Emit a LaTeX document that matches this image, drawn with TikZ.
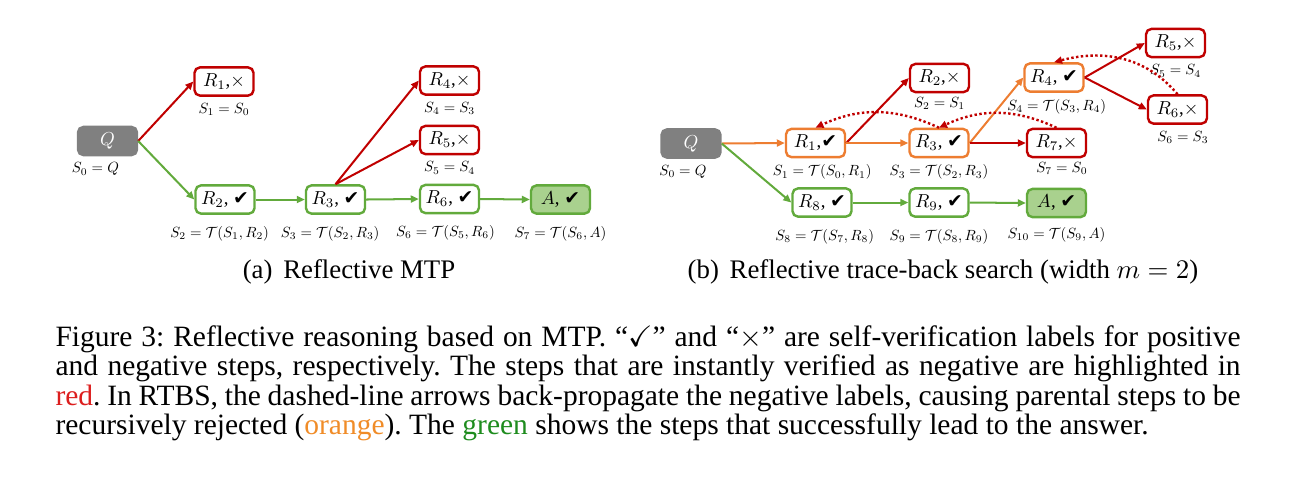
\documentclass[tikz,border=0pt]{standalone}
\usepackage{amssymb}
\usepackage{graphicx}
\usepackage{fontspec}
\setmainfont{Liberation Serif}
\newfontfamily\chkfont{DejaVu Sans}
\usetikzlibrary{positioning,arrows.meta}
\definecolor{stepred}{RGB}{192,0,0}
\definecolor{steporange}{RGB}{237,125,49}
\definecolor{stepgreen}{RGB}{98,170,60}
\definecolor{ansgreen}{RGB}{169,209,142}
\definecolor{qgray}{RGB}{128,128,128}
\definecolor{capred}{RGB}{220,30,30}
\definecolor{caporange}{RGB}{240,140,40}
\definecolor{capgreen}{RGB}{30,140,30}
\newcommand{\okmark}{{\chkfont\char"2714}}
\newcommand{\badmark}{$\times$}
\newcommand{\steptxt}[1]{\scalebox{0.7}{#1}}
\newcommand{\slab}[1]{\scalebox{0.55}{$#1$}}
\tikzset{
  stepbox/.style={draw, rounded corners=2pt, line width=0.9pt, fill=white, minimum width=22pt,
                  minimum height=10.5pt, inner sep=0pt, font=\fontsize{10}{12}\selectfont},
  badstep/.style={stepbox, draw=stepred},
  backstep/.style={stepbox, draw=steporange},
  goodstep/.style={stepbox, draw=stepgreen},
  ansstep/.style={goodstep, fill=ansgreen},
  query/.style={stepbox, draw=qgray, fill=qgray, text=white},
  slbl/.style={font=\fontsize{10}{12}\selectfont, inner sep=1pt},
  edge/.style={-{Triangle[length=3pt,width=2.6pt]}, line width=0.75pt},
  bad/.style={edge, stepred},
  back/.style={edge, steporange},
  good/.style={edge, stepgreen},
  trace/.style={-{Triangle[length=3pt,width=2.6pt]}, line width=0.9pt, stepred,
                dash pattern=on 0.9pt off 0.9pt},
  subcap/.style={font=\fontsize{10}{11}\selectfont, inner sep=0pt, anchor=base}
}
\begin{document}
\begin{tikzpicture}[x=0.373pt, y=0.373pt, node distance=1.2pt]
        \useasboundingbox (0,0) rectangle (1296,-483);
        % (a) reflective MTP
        \node[query] (aq) at (107.5,-141) {\steptxt{$Q$}};
        \node[badstep] (ar1) at (224,-81.5) {\steptxt{$R_1$,\badmark}};
        \node[goodstep] (ar2) at (225,-199.5) {\steptxt{$R_2$, \okmark}};
        \node[goodstep] (ar3) at (335.5,-199.5) {\steptxt{$R_3$, \okmark}};
        \node[badstep] (ar4) at (449.5,-80.5) {\steptxt{$R_4$,\badmark}};
        \node[badstep] (ar5) at (449.5,-140) {\steptxt{$R_5$,\badmark}};
        \node[goodstep] (ar6) at (449.5,-199) {\steptxt{$R_6$, \okmark}};
        \node[ansstep] (aa) at (560.5,-199.5) {\steptxt{$A$, \okmark}};
        \node[slbl, below=of aq, xshift=-4.5pt] {\slab{S_0=Q}};
        \node[slbl, below=of ar1] {\slab{S_1=S_0}};
        \node[slbl, below=3pt of ar2, xshift=-2pt] {\slab{S_2=\mathcal{T}(S_1,R_2)}};
        \node[slbl, below=3pt of ar3, xshift=-2pt] {\slab{S_3=\mathcal{T}(S_2,R_3)}};
        \node[slbl, below=of ar4] {\slab{S_4=S_3}};
        \node[slbl, below=of ar5] {\slab{S_5=S_4}};
        \node[slbl, below=3pt of ar6, xshift=-1.5pt] {\slab{S_6=\mathcal{T}(S_5,R_6)}};
        \node[slbl, below=3pt of aa] {\slab{S_7=\mathcal{T}(S_6,A)}};
        \draw[bad] (aq.east) -- (ar1.west);
        \draw[good] (aq.east) -- (ar2.west);
        \draw[good] (ar2.east) -- (ar3.west);
        \draw[bad] (ar3.north) -- (ar4.west);
        \draw[bad] (ar3.north) -- (ar5.west);
        \draw[good] (ar3.east) -- (ar6.west);
        \draw[good] (ar6.east) -- (aa.west);
        % (b) reflective trace-back search
        \node[query] (bq) at (691,-143.5) {\steptxt{$Q$}};
        \node[backstep] (br1) at (815.5,-143) {\steptxt{$R_1$,\okmark}};
        \node[badstep] (br2) at (939.5,-78) {\steptxt{$R_2$,\badmark}};
        \node[backstep] (br3) at (939,-143) {\steptxt{$R_3$, \okmark}};
        \node[backstep] (br4) at (1054,-77.5) {\steptxt{$R_4$, \okmark}};
        \node[badstep] (br5) at (1175.5,-43) {\steptxt{$R_5$,\badmark}};
        \node[badstep] (br6) at (1177.5,-109.5) {\steptxt{$R_6$,\badmark}};
        \node[badstep] (br7) at (1056.5,-143) {\steptxt{$R_7$,\badmark}};
        \node[goodstep] (br8) at (822,-202.5) {\steptxt{$R_8$, \okmark}};
        \node[goodstep] (br9) at (939,-202.5) {\steptxt{$R_9$, \okmark}};
        \node[ansstep] (ba) at (1056.5,-203) {\steptxt{$A$, \okmark}};
        \node[slbl, below=of bq, xshift=-3pt] {\slab{S_0=Q}};
        \node[slbl, below=of br1, xshift=2.5pt] {\slab{S_1=\mathcal{T}(S_0,R_1)}};
        \node[slbl, below=0.4pt of br2] {\slab{S_2=S_1}};
        \node[slbl, below=of br3] {\slab{S_3=\mathcal{T}(S_2,R_3)}};
        \node[slbl, below=of br4, xshift=1pt] {\slab{S_4=\mathcal{T}(S_3,R_4)}};
        \node[slbl, below=of br5] {\slab{S_5=S_4}};
        \node[slbl, below=of br6, xshift=2pt] {\slab{S_6=S_3}};
        \node[slbl, below=0.4pt of br7, xshift=2pt] {\slab{S_7=S_0}};
        \node[slbl, below=3pt of br8, xshift=1pt] {\slab{S_8=\mathcal{T}(S_7,R_8)}};
        \node[slbl, below=3pt of br9] {\slab{S_9=\mathcal{T}(S_8,R_9)}};
        \node[slbl, below=2.2pt of ba] {\slab{S_{10}=\mathcal{T}(S_9,A)}};
        \draw[back] (bq.east) -- (br1.west);
        \draw[good] (bq.east) -- (br8.west);
        \draw[bad] (br1.east) -- (br2.west);
        \draw[back] (br1.east) -- (br3.west);
        \draw[back] (br3.east) -- (br4.west);
        \draw[bad] (br3.east) -- (br7.west);
        \draw[bad] (br4.east) -- (br5.west);
        \draw[bad] (br4.east) -- (br6.west);
        \draw[good] (br8.east) -- (br9.west);
        \draw[good] (br9.east) -- (ba.west);
        \draw[trace] (br3.north) to[out=155,in=25] (br1.north);
        \draw[trace] (br7.north) to[out=155,in=25] (br3.north);
        \draw[trace] (br6.north) to[out=130,in=15] (br4.north);
        % captions
        \node[subcap] (capa) at (349,-278) {(a)\hspace{4pt}Reflective MTP};
        \node[subcap] (capb) at (943,-278) {(b)\hspace{4pt}Reflective trace-back search (width $m=2$)};
        \node[anchor=north west, inner sep=0pt, text width=442pt, align=justify,
              font=\fontsize{11}{11}\selectfont\frenchspacing] (cap) at (55,-325)
          {Figure 3: Reflective reasoning based on MTP. ``$\checkmark$'' and ``$\times$'' are self-verification labels for positive\linebreak
           and negative steps, respectively. The steps that are instantly verified as negative are highlighted in\linebreak
           \textcolor{capred}{red}. In RTBS, the dashed-line arrows back-propagate the negative labels, causing parental steps to be\linebreak
           recursively rejected (\textcolor{caporange}{orange}). The \textcolor{capgreen}{green} shows the steps that successfully lead to the answer.};
\end{tikzpicture}
\end{document}
